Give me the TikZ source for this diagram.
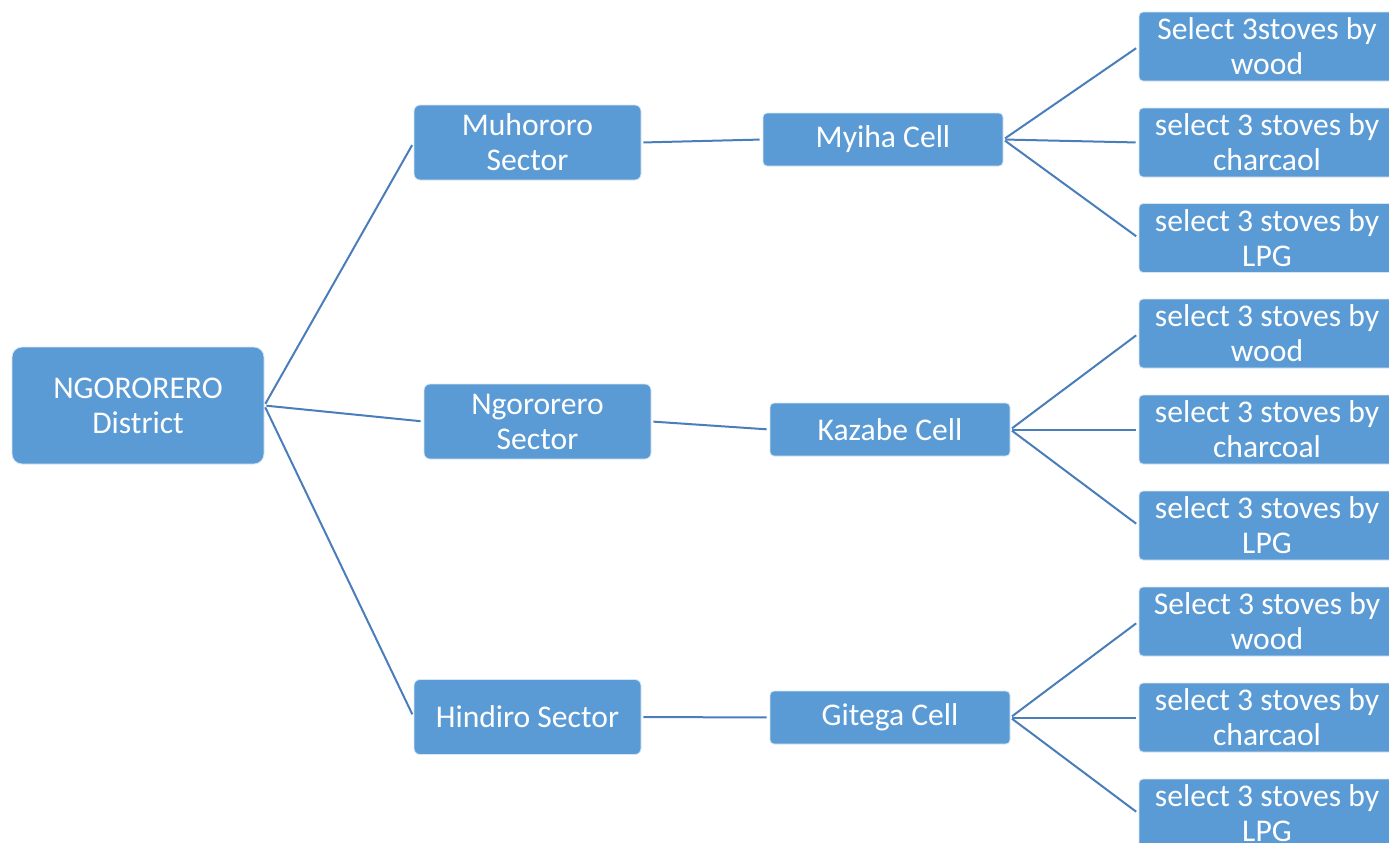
\documentclass[tikz,border=0pt]{standalone}
\usepackage{fontspec}
\setmainfont{Carlito}
\usetikzlibrary{positioning}
\definecolor{boxBlue}{HTML}{5B9BD5}
\definecolor{linkBlue}{HTML}{4A7EBB}

\begin{document}
\begin{tikzpicture}[
  x=0.5pt, y=-0.5pt,
  unit/.style={
    fill=boxBlue,
    draw=white!75!boxBlue,
    line width=0.4pt,
    rounded corners=3pt,
    inner sep=0pt,
    align=center,
    text=white,
    font=\fontsize{15.8}{17.5}\selectfont
  },
  district/.style={unit, rounded corners=5pt, minimum width=126pt, minimum height=58.5pt},
  sector/.style={unit, minimum width=113.5pt, minimum height=37.5pt},
  cell/.style={unit, rounded corners=2pt, minimum width=120pt, minimum height=26.5pt},
  choice/.style={unit, rounded corners=2pt, minimum width=128pt, minimum height=34.5pt},
  link/.style={draw=linkBlue, line width=1pt, shorten <=1pt, shorten >=1.5pt}
]
\useasboundingbox (0,0) rectangle (1389,842);
\clip (0,0) rectangle (1389,842);

% district and sectors
\node[district] (dist) at (138,405.5) {NGORORERO\\District};
\node[sector] (muho) at (527.5,142.5) {Muhororo\\Sector};
\node[sector] (ngor) at (537.5,421.5) {Ngororero\\Sector};
\node[sector] (hind) at (527.5,717) {Hindiro Sector};

% cells
\node[cell] (myiha) at (883,139.5) {Myiha Cell};
\node[cell] (kazabe) at (890,429.5) {Kazabe Cell};
\node[cell] (gitega) at (890,717.5) {Gitega Cell};

% stove choices
\node[choice] (m1) at (1267,46.5) {Select 3stoves by\\wood};
\node[choice] (m2) at (1267,142.5) {select 3 stoves by\\charcaol};
\node[choice] (m3) at (1267,238) {select 3 stoves by\\LPG};
\node[choice] (k1) at (1267,333.5) {select 3 stoves by\\wood};
\node[choice] (k2) at (1267,429.5) {select 3 stoves by\\charcoal};
\node[choice] (k3) at (1267,525.5) {select 3 stoves by\\LPG};
\node[choice] (g1) at (1267,621.5) {Select 3 stoves by\\wood};
\node[choice] (g2) at (1267,717.5) {select 3 stoves by\\charcaol};
\node[choice] (g3) at (1267,813.5) {select 3 stoves by\\LPG};

% connectors
\foreach \s in {muho, ngor, hind}
  \draw[link] (dist.east) -- (\s.west);
\draw[link] (muho.east) -- (myiha.west);
\draw[link] (ngor.east) -- (kazabe.west);
\draw[link] (hind.east) -- (gitega.west);
\foreach \c in {m1, m2, m3}
  \draw[link] (myiha.east) -- (\c.west);
\foreach \c in {k1, k2, k3}
  \draw[link] (kazabe.east) -- (\c.west);
\foreach \c in {g1, g2, g3}
  \draw[link] (gitega.east) -- (\c.west);

\end{tikzpicture}
\end{document}
